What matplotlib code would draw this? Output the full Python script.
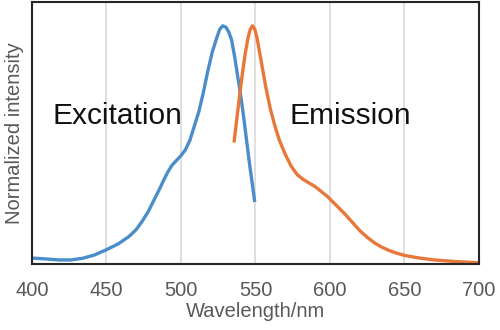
import matplotlib.pyplot as plt

# excitation spectrum (nm, normalized)
ex_nm = [400, 410, 418, 426, 434, 442, 450, 458, 465, 470, 474, 478, 482, 486, 489,
         491.5, 494, 497, 500, 503, 506, 509, 512, 515, 518, 521, 524, 526, 528, 530,
         532, 534, 536, 538, 540, 542, 544, 546, 548, 549.5]
ex_val = [0.025, 0.021, 0.017, 0.017, 0.024, 0.038, 0.06, 0.085, 0.115, 0.145, 0.18,
          0.22, 0.27, 0.32, 0.36, 0.39, 0.415, 0.435, 0.455, 0.48, 0.52, 0.58, 0.64,
          0.72, 0.81, 0.89, 0.95, 0.985, 1.0, 0.995, 0.975, 0.94, 0.87, 0.79, 0.71,
          0.62, 0.52, 0.42, 0.33, 0.26]

# emission spectrum
em_nm = [535.6, 537, 539, 541, 543, 545, 546.5, 548, 549.5, 551, 553, 555, 557, 560,
         563, 566, 570, 574, 578, 582, 586, 590, 594, 598, 602, 606, 610, 615, 620,
         625, 630, 635, 640, 645, 650, 660, 670, 685, 700]
em_val = [0.51, 0.585, 0.69, 0.79, 0.88, 0.95, 0.985, 1.0, 0.985, 0.95, 0.88, 0.81,
          0.74, 0.65, 0.58, 0.52, 0.46, 0.41, 0.375, 0.355, 0.34, 0.325, 0.305, 0.285,
          0.26, 0.235, 0.21, 0.175, 0.14, 0.112, 0.088, 0.07, 0.056, 0.045, 0.036,
          0.025, 0.017, 0.01, 0.005]

x_ticks = [400, 450, 500, 550, 600, 650, 700]

plt.rcParams['font.family'] = ['Liberation Sans', 'DejaVu Sans']

fig = plt.figure(figsize=(5, 3.3), dpi=100)
ax = fig.add_axes([0.064, 0.2, 0.894, 0.794])

ax.plot(ex_nm, ex_val, color="#4a8dc8", lw=2.4, solid_capstyle="butt",
        solid_joinstyle="round")
ax.plot(em_nm, em_val, color="#e8773a", lw=2.4, solid_capstyle="butt",
        solid_joinstyle="round")

ax.set_xlim(400, 700)
ax.set_ylim(0, 1.1)
ax.set_xticks(x_ticks)
ax.set_yticks([])
ax.tick_params(axis="x", length=0, pad=12, labelsize=14.5, labelcolor="#595959")
ax.grid(axis="x", color="#d9d9d9", lw=1.2)
ax.set_axisbelow(True)
for s in ax.spines.values():
    s.set_color("#262626")
    s.set_linewidth(1.5)

ax.set_xlabel("Wavelength/nm", fontsize=14.5, color="#595959", labelpad=2)
ax.set_ylabel("Normalized intensity", fontsize=14.5, color="#595959", labelpad=6)

ax.text(414, 0.62, "Excitation", fontsize=21.5, color="#111111", va="center")
ax.text(572.5, 0.62, "Emission", fontsize=21.5, color="#111111", va="center")

plt.savefig("out.png", dpi=100)
